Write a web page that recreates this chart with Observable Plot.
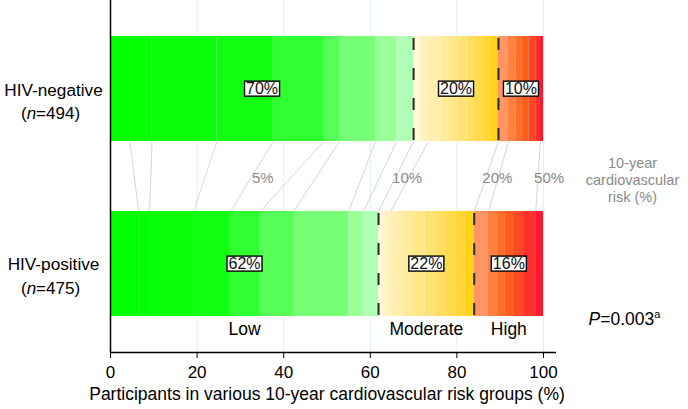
<!DOCTYPE html>
<html><head><meta charset="utf-8">
<script src="https://cdn.jsdelivr.net/npm/d3@7"></script>
<script src="https://cdn.jsdelivr.net/npm/@observablehq/plot@0.6"></script>
<style>
body{margin:0;background:#fff;}
#chart{width:688px;height:409px;overflow:hidden;}
</style>
</head><body><div id="chart"></div>
<script>
// ---------- data ----------
const groups = ["HIV-negative", "HIV-positive"];
const groupN = [494, 475];
// lower bound (10-year CVD risk, %) of each colour band
const bandLower = [0,2,3,4,5,6,7,8,9, 10,11,12,13,14,15,16,17,18,19, 20,25,30,35,40,45,50];
const bandColors = [
  "#00ff00","#02ff02","#08ff08","#12ff12","#30ff30","#55ff55","#77ff77","#99ff99","#b0ffb6",
  "#fff7d6","#fff2c2","#ffeeae","#ffea9a","#ffe687","#ffe274","#ffde60","#ffda4a","#ffd634","#ffd21a",
  "#ff9562","#ff8040","#ff6e28","#ff5e1e","#ff4826","#ff302c","#ff1632"
];
// share of participants (%) in each band
const sharesNeg = [4.5,5.1,15.0,13.0,11.6,3.7,8.3,4.9,3.9, 1.6,1.8,3.1,1.9,2.0,1.9,2.0,1.9,1.6,1.8, 2.3,1.7,1.4,1.6,1.6,1.1,0.7];
const sharesPos = [6.5,2.5,10.2,8.5,6.9,7.7,12.7,3.4,3.5, 1.4,1.4,3.0,2.3,2.6,2.3,2.3,2.3,2.3,2.2, 3.3,2.1,1.8,1.9,2.3,2.8,1.8];
const zoneNames = ["Low", "Moderate", "High"];
const zoneCuts = [10, 20];
const zonePctNeg = [70, 20, 10];
const zonePctPos = [62, 22, 16];
const linkThresholds = [2,3,4,5,6,7,8,9,10,12,20,25,50];
const labeledThresholds = [5,10,20,50];
const xTicks = [0,20,40,60,80,100];
const xTitle = "Participants in various 10-year cardiovascular risk groups (%)";
const riskTitle = "10-year\ncardiovascular\nrisk (%)";
const pText = "P=0.003a";

// ---------- derived tables ----------
const shares = [sharesNeg, sharesPos];
const zonePct = [zonePctNeg, zonePctPos];
const rowY = i => 1 - i;   // HIV-negative on top
const half = 0.3;
const zoneOf = lo => lo < zoneCuts[0] ? 0 : lo < zoneCuts[1] ? 1 : 2;

const segs = [];
groups.forEach((g, gi) => {
  let c = 0;
  bandLower.forEach((lo, bi) => {
    segs.push({g, gi, x1: c, x2: c + shares[gi][bi], color: bandColors[bi], zone: zoneOf(lo)});
    c += shares[gi][bi];
  });
});
const cumAt = (gi, t) => d3.sum(bandLower.map((lo, bi) => lo < t ? shares[gi][bi] : 0));
const links = linkThresholds.map(t => ({t, a: cumAt(0, t), b: cumAt(1, t)}));
const zoneEdges = [];
const zoneLabels = [];
groups.forEach((g, gi) => {
  zoneNames.forEach((z, zi) => {
    const s = segs.filter(d => d.gi === gi && d.zone === zi);
    const x1 = d3.min(s, d => d.x1), x2 = d3.max(s, d => d.x2);
    zoneLabels.push({gi, zi, x: (x1 + x2) / 2, text: zonePct[gi][zi] + "%"});
    if (zi > 0) zoneEdges.push({gi, x: x1});
  });
});
const groupLabels = groups.map((g, gi) => ({g, gi, n: `(n=${groupN[gi]})`}));
const thrLabels = links.filter(d => labeledThresholds.includes(d.t)).map(d => ({x: (d.a + d.b) / 2, text: d.t + "%"}));
const bottomZone = zoneLabels.filter(d => d.gi === 1).map(d => ({x: d.x, text: zoneNames[d.zi]}));

const font = "'Liberation Sans', Arial, Helvetica, sans-serif";
const chart = Plot.plot({
  width: 688, height: 409,
  marginLeft: 110, marginRight: 145, marginTop: 0, marginBottom: 57,
  style: {fontFamily: font, fontSize: "17px", background: "white", overflow: "visible"},
  x: {domain: [0, 100], ticks: xTicks, tickFormat: d => d, tickSize: 6, tickPadding: 7, label: null},
  y: {domain: [-0.506, 1.506], axis: null},
  color: {type: "identity"},
  marks: [
    Plot.ruleX(xTicks.slice(1), {stroke: "#dcf3f3", strokeWidth: 1}),
    Plot.link(links, {x1: "a", y1: 1 - half, x2: "b", y2: half, stroke: "#d6d6d6", strokeWidth: 1}),
    Plot.rect(segs, {x1: "x1", x2: "x2", y1: d => rowY(d.gi) - half, y2: d => rowY(d.gi) + half, fill: "color"}),
    Plot.ruleX(zoneEdges, {x: "x", y1: d => rowY(d.gi) + half, y2: d => rowY(d.gi) - half, stroke: "#2a2a2a", strokeWidth: 2, strokeDasharray: "12,18", strokeDashoffset: -2}),
    Plot.text(zoneLabels, {x: "x", y: d => rowY(d.gi), text: "text", fill: "#111", fontSize: 16}),
    Plot.text(thrLabels, {x: "x", y: 0.5, text: "text", dx: 11, dy: 2, fill: "#8a8a8a", fontSize: 15}),
    Plot.text(bottomZone, {x: "x", y: -half, text: "text", dy: 13, fill: "black", fontSize: 17.5}),
    Plot.text(groupLabels, {x: 0, y: d => rowY(d.gi), text: "g", dx: -57, dy: 1, fill: "black", fontSize: 17.2}),
    Plot.text(groupLabels, {x: 0, y: d => rowY(d.gi), text: "n", dx: -60, dy: 25, fill: "black", fontSize: 17}),
    Plot.text([riskTitle], {frameAnchor: "right", y: 0.5, text: d => d, textAnchor: "middle", dx: 89, dy: 3, lineHeight: 1.17, fill: "#8a8a8a", fontSize: 14.5}),
    Plot.text([pText], {frameAnchor: "bottom-right", text: d => d, textAnchor: "start", dx: 45, dy: -28, fill: "black", fontSize: 17.5}),
    Plot.text([xTitle], {x: 50, frameAnchor: "bottom", text: d => d, dy: 47, fill: "black", fontSize: 17.5}),
    Plot.ruleX([0], {stroke: "black", strokeWidth: 1.5}),
    Plot.ruleY([-0.506], {x1: 0, x2: 103, stroke: "black", strokeWidth: 1.5})
  ]
});
document.getElementById("chart").appendChild(chart);

// ---------- text styling post-process ----------
const svg = d3.select(chart);
// boxed percentage labels
svg.selectAll("g[fill='#111'] text").each(function() {
  const b = this.getBBox();
  const r = document.createElementNS("http://www.w3.org/2000/svg", "rect");
  r.setAttribute("x", b.x - 1.5); r.setAttribute("y", b.y + 1);
  r.setAttribute("width", b.width + 3); r.setAttribute("height", b.height - 2);
  r.setAttribute("fill", "white"); r.setAttribute("stroke", "black"); r.setAttribute("stroke-width", 1.4);
  const tf = this.getAttribute("transform"); if (tf) r.setAttribute("transform", tf);
  this.parentNode.insertBefore(r, this);
});
// italic n, italic P, superscript a
svg.selectAll("text").each(function() {
  const t = this.textContent;
  let m = /^\(n=(\d+)\)$/.exec(t);
  if (m) {
    const s = d3.select(this).text(null);
    s.append("tspan").text("(");
    s.append("tspan").attr("font-style", "italic").text("n");
    s.append("tspan").text("=" + m[1] + ")");
  } else if (t === pText) {
    const s = d3.select(this).text(null);
    s.append("tspan").attr("font-style", "italic").text("P");
    s.append("tspan").text("=0.003");
    s.append("tspan").attr("font-size", 11).attr("dy", -7).text("a");
  }
});
</script>
</body></html>
